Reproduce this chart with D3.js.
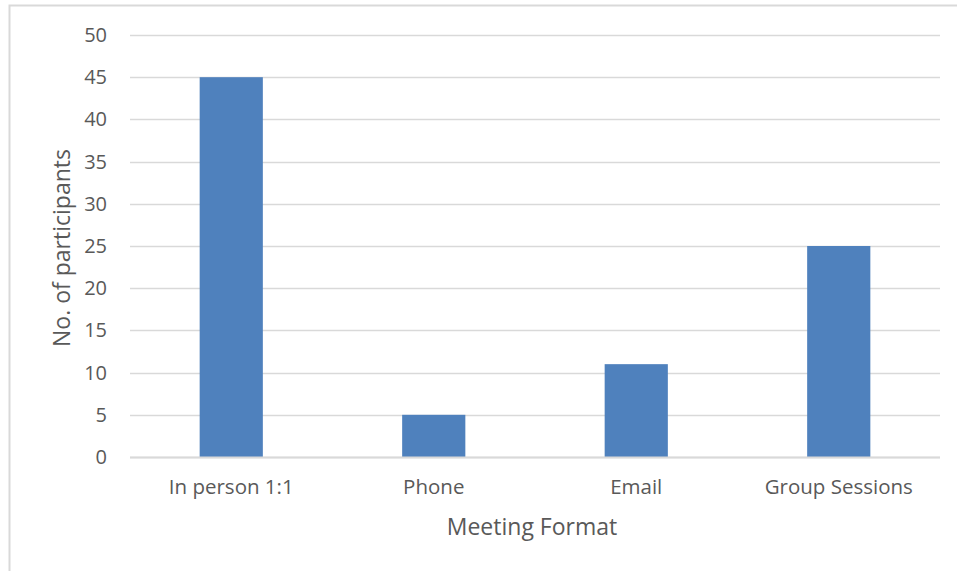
<!DOCTYPE html>
<html>
<head>
<meta charset="utf-8">
<script src="https://cdn.jsdelivr.net/npm/d3@7"></script>
<style>
  html, body { margin: 0; padding: 0; background: #fff; }
  text { font-family: "Open Sans", "Noto Sans", sans-serif; fill: #595959; }
</style>
</head>
<body>
<svg id="chart" width="957" height="571"></svg>
<script>
// Meeting formats and participant counts
const categories = ["In person 1:1", "Phone", "Email", "Group Sessions"];
const participants = [45, 5, 11, 25];
const yTicks = [0, 5, 10, 15, 20, 25, 30, 35, 40, 45, 50];

const svg = d3.select("#chart");
const W = 957, H = 571;
const margin = { left: 130, right: 17, top: 35, bottom: 114 };
const plotW = W - margin.left - margin.right;
const plotH = H - margin.top - margin.bottom;

// chart frame
svg.append("rect")
  .attr("x", 9.5).attr("y", 5.5)
  .attr("width", W).attr("height", H)
  .attr("fill", "none").attr("stroke", "#d9d9d9").attr("stroke-width", 2);

const g = svg.append("g").attr("transform", `translate(${margin.left},${margin.top})`);

const x = d3.scaleBand().domain(categories).range([0, plotW]).paddingInner(0.688).paddingOuter(0.344);
const y = d3.scaleLinear().domain([0, 50]).range([plotH, 0]);

// gridlines
g.append("g").selectAll("line").data(yTicks).join("line")
  .attr("x1", 0).attr("x2", plotW)
  .attr("y1", d => Math.round(y(d)) + 0.5).attr("y2", d => Math.round(y(d)) + 0.5)
  .attr("stroke", "#d9d9d9").attr("stroke-width", 1.3);

// bars
g.append("g").selectAll("rect").data(categories).join("rect")
  .attr("x", d => x(d))
  .attr("width", x.bandwidth())
  .attr("y", (d, i) => y(participants[i]))
  .attr("height", (d, i) => y(0) - y(participants[i]))
  .attr("fill", "#4f81bd");

// baseline
g.append("line")
  .attr("x1", 0).attr("x2", plotW)
  .attr("y1", y(0) + 0.5).attr("y2", y(0) + 0.5)
  .attr("stroke", "#d9d9d9").attr("stroke-width", 2);

// y axis labels
const yAxis = d3.axisLeft(y).tickValues(yTicks).tickSize(0).tickPadding(23);
const ya = g.append("g").call(yAxis);
ya.select(".domain").remove();
ya.selectAll("text").style("font-size", "20px").attr("fill", "#595959")
  .style("font-family", "'Open Sans', 'Noto Sans', sans-serif");

// x axis labels
const xAxis = d3.axisBottom(x).tickSize(0).tickPadding(22);
const xa = g.append("g").attr("transform", `translate(0,${plotH})`).call(xAxis);
xa.select(".domain").remove();
xa.selectAll("text").style("font-size", "20.5px").attr("fill", "#595959")
  .style("font-family", "'Open Sans', 'Noto Sans', sans-serif");

// axis titles
svg.append("text")
  .attr("x", margin.left + plotW / 2 - 3).attr("y", 535)
  .attr("text-anchor", "middle").style("font-size", "23px")
  .text("Meeting Format");

svg.append("text")
  .attr("transform", `translate(70,${margin.top + plotH / 2 + 2}) rotate(-90)`)
  .attr("text-anchor", "middle").style("font-size", "23px")
  .text("No. of participants");
</script>
</body>
</html>
